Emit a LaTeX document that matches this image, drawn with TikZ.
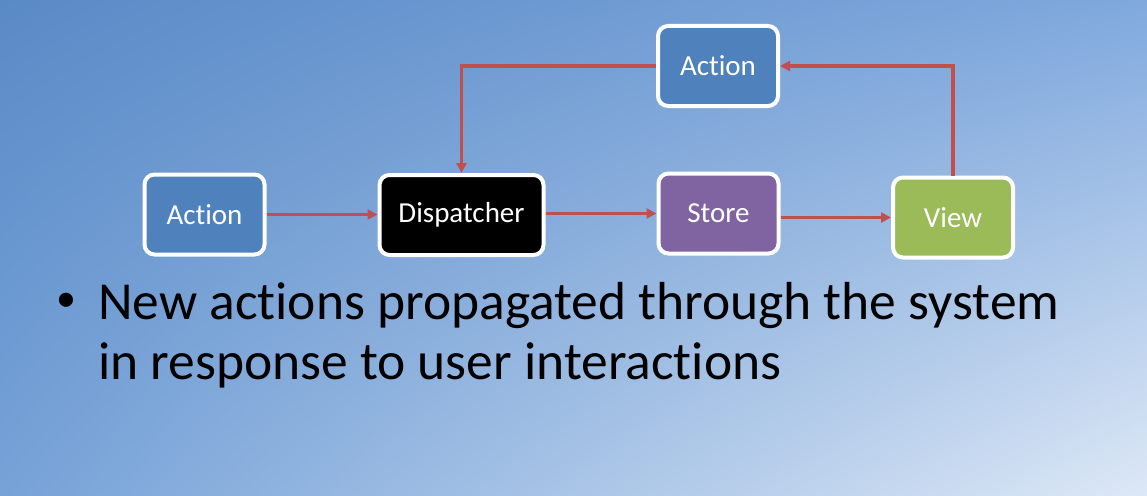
\documentclass[tikz,border=0pt]{standalone}
\usepackage{fontspec}
\setmainfont[Ligatures={NoCommon}]{Carlito}
\usetikzlibrary{arrows.meta,shadings}

\definecolor{bgTL}{HTML}{5A8AC6}
\definecolor{bgTR}{HTML}{80A9DE}
\definecolor{bgBL}{HTML}{76A2D8}
\definecolor{bgBR}{HTML}{DDE8F6}
\definecolor{actblue}{HTML}{4F81BD}
\definecolor{storepurple}{HTML}{8064A2}
\definecolor{viewgreen}{HTML}{9BBB59}
\definecolor{flowred}{HTML}{C0504D}

\tikzset{
    box/.style={draw=white,line width=4pt,rounded corners=10pt,
        minimum width=120pt,minimum height=80pt,text=white,
        font=\fontsize{29}{32}\selectfont},
    flow/.style={draw=flowred,line width=3.2pt,
        -{Triangle[length=10pt,width=10pt]}}
}

\begin{document}
\begin{tikzpicture}[x=1pt,y=-1pt]
        \shade[upper left=bgTL,upper right=bgTR,lower left=bgBL,lower right=bgBR]
            (0,0) rectangle (1147,495);
        \useasboundingbox (0,0) rectangle (1147,495);
        % boxes
        \node[box,fill=actblue] (actL) at (204.5,214.5) {Action};
        \node[box,fill=black,minimum width=164pt] (disp) at (461.5,215) {Dispatcher};
        \node[box,fill=storepurple] (store) at (718.5,213.5) {Store};
        \node[box,fill=viewgreen] (view) at (953,217.5) {View};
        \node[box,fill=actblue] (actT) at (718,66) {Action};
        % flow
        \draw[flow] (actL.east) -- (actL.east -| disp.west);
        \draw[flow] (disp.east |- store) -- (store.west);
        \draw[flow] (store.east |- view) -- (view.west);
        \draw[flow] (view.north) |- (actT.east);
        \draw[flow] (actT.west) -| (disp.north);
        % bullet
        \node[inner sep=0pt,font=\fontsize{40}{40}\selectfont] (dot) at (66,302) {•};
        \node[anchor=base west,inner sep=0pt,align=left,
            font=\fontsize{53.5}{60}\selectfont] (txt) at (98,379)
            {New actions propagated through the system\\in response to user interactions};
    \end{tikzpicture}
\end{document}
